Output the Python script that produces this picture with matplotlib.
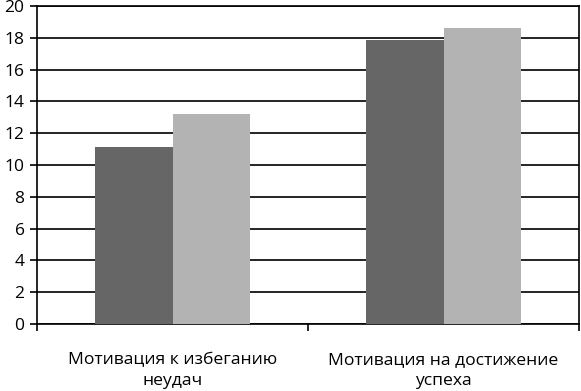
import numpy as np
import matplotlib
matplotlib.use("Agg")
import matplotlib.pyplot as plt

plt.rcParams['font.family'] = ['Open Sans', 'DejaVu Sans']

categories = ['Мотивация к избеганию\nнеудач', 'Мотивация на достижение\nуспеха']
series_dark = [11.1, 17.85]
series_light = [13.2, 18.6]
yticks = [0, 2, 4, 6, 8, 10, 12, 14, 16, 18, 20]

fig = plt.figure(figsize=(5.81, 3.91), dpi=100)
ax = fig.add_axes([0.0637, 0.1714, 0.9329, 0.8133])

x = np.arange(len(categories))
w = 0.285
ax.bar(x - w / 2, series_dark, width=w, color='#666666', zorder=3)
ax.bar(x + w / 2, series_light, width=w, color='#b3b3b3', zorder=3)

ax.set_xlim(-0.5, len(categories) - 0.5)
ax.set_ylim(0, 20)
ax.set_yticks(yticks)
ax.set_yticklabels([str(v) for v in yticks], fontsize=12.5)
ax.yaxis.grid(True, color='black', linewidth=1.2, zorder=0)

# category labels centred, tick marks between categories
ax.set_xticks(x)
ax.set_xticklabels(categories, fontsize=12.6, multialignment='center',
                   linespacing=1.4)
ax.tick_params(axis='x', length=0, pad=20)
ax.set_xticks([-0.5, 0.5, 1.5], minor=True)
ax.tick_params(axis='x', which='minor', length=5, width=1.2, direction='out')
ax.tick_params(axis='y', length=5, width=1.2, direction='out', pad=4)

for s in ax.spines.values():
    s.set_linewidth(1.2)
    s.set_color('black')

fig.savefig('out.png', dpi=100)
